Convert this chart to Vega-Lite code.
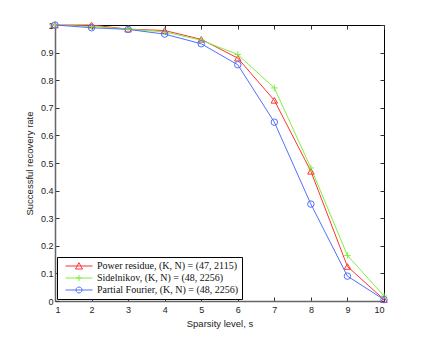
{
  "$schema": "https://vega.github.io/schema/vega-lite/v6.json",
  "width": 329,
  "height": 276,
  "autosize": {"type": "none"},
  "padding": {"left": 55, "top": 25, "right": 40, "bottom": 39},
  "background": "white",
  "config": {
    "view": {"stroke": "#000", "strokeWidth": 1},
    "axis": {"labelFont": "Liberation Sans", "titleFont": "Liberation Sans", "labelFontSize": 9, "titleFontSize": 9.5, "titleFontWeight": "normal", "labelColor": "#222", "titleColor": "#222", "grid": false, "tickColor": "#333"}
  },
  "data": {"values": [
    {"series": "Power residue, (K, N) = (47, 2115)", "s": 1, "rate": 1},
    {"series": "Power residue, (K, N) = (47, 2115)", "s": 2, "rate": 1},
    {"series": "Power residue, (K, N) = (47, 2115)", "s": 3, "rate": 0.985},
    {"series": "Power residue, (K, N) = (47, 2115)", "s": 4, "rate": 0.98},
    {"series": "Power residue, (K, N) = (47, 2115)", "s": 5, "rate": 0.948},
    {"series": "Power residue, (K, N) = (47, 2115)", "s": 6, "rate": 0.88},
    {"series": "Power residue, (K, N) = (47, 2115)", "s": 7, "rate": 0.727},
    {"series": "Power residue, (K, N) = (47, 2115)", "s": 8, "rate": 0.47},
    {"series": "Power residue, (K, N) = (47, 2115)", "s": 9, "rate": 0.125},
    {"series": "Power residue, (K, N) = (47, 2115)", "s": 10, "rate": 0.005},
    {"series": "Sidelnikov, (K, N) = (48, 2256)", "s": 1, "rate": 1},
    {"series": "Sidelnikov, (K, N) = (48, 2256)", "s": 2, "rate": 0.995},
    {"series": "Sidelnikov, (K, N) = (48, 2256)", "s": 3, "rate": 0.985},
    {"series": "Sidelnikov, (K, N) = (48, 2256)", "s": 4, "rate": 0.975},
    {"series": "Sidelnikov, (K, N) = (48, 2256)", "s": 5, "rate": 0.945},
    {"series": "Sidelnikov, (K, N) = (48, 2256)", "s": 6, "rate": 0.893},
    {"series": "Sidelnikov, (K, N) = (48, 2256)", "s": 7, "rate": 0.772},
    {"series": "Sidelnikov, (K, N) = (48, 2256)", "s": 8, "rate": 0.482},
    {"series": "Sidelnikov, (K, N) = (48, 2256)", "s": 9, "rate": 0.165},
    {"series": "Sidelnikov, (K, N) = (48, 2256)", "s": 10, "rate": 0.018},
    {"series": "Partial Fourier, (K, N) = (48, 2256)", "s": 1, "rate": 1},
    {"series": "Partial Fourier, (K, N) = (48, 2256)", "s": 2, "rate": 0.99},
    {"series": "Partial Fourier, (K, N) = (48, 2256)", "s": 3, "rate": 0.984},
    {"series": "Partial Fourier, (K, N) = (48, 2256)", "s": 4, "rate": 0.967},
    {"series": "Partial Fourier, (K, N) = (48, 2256)", "s": 5, "rate": 0.932},
    {"series": "Partial Fourier, (K, N) = (48, 2256)", "s": 6, "rate": 0.856},
    {"series": "Partial Fourier, (K, N) = (48, 2256)", "s": 7, "rate": 0.648},
    {"series": "Partial Fourier, (K, N) = (48, 2256)", "s": 8, "rate": 0.351},
    {"series": "Partial Fourier, (K, N) = (48, 2256)", "s": 9, "rate": 0.09},
    {"series": "Partial Fourier, (K, N) = (48, 2256)", "s": 10, "rate": 0.005}
  ]},
  "resolve": {"axis": {"x": "independent", "y": "independent"}, "legend": {"color": "independent", "shape": "independent"}},
  "layer": [
    {
      "mark": {"type": "line", "strokeWidth": 1, "clip": false},
      "encoding": {
        "x": {"field": "s", "type": "quantitative", "scale": {"domain": [1, 10], "nice": false, "zero": false},
          "axis": {"orient": "bottom", "values": [1,2,3,4,5,6,7,8,9,10], "title": "Sparsity level, s", "tickSize": -4, "labelPadding": 8, "titlePadding": 4, "domainColor": "#666", "domainWidth": 1.5}},
        "y": {"field": "rate", "type": "quantitative", "scale": {"domain": [0, 1], "nice": false},
          "axis": {"orient": "left", "values": [0,0.1,0.2,0.3,0.4,0.5,0.6,0.7,0.8,0.9,1], "format": "~g", "title": "Successful recovery rate", "tickSize": -4, "labelPadding": 6, "titlePadding": 6, "domainColor": "#666", "domainWidth": 1.5}},
        "color": {"field": "series", "type": "nominal",
          "scale": {"domain": ["Power residue, (K, N) = (47, 2115)", "Sidelnikov, (K, N) = (48, 2256)", "Partial Fourier, (K, N) = (48, 2256)"], "range": ["#ff3333", "#80ee40", "#5070ff"]},
          "legend": {"title": null, "orient": "bottom-left", "offset": 2, "strokeColor": "#000", "fillColor": "white", "padding": 3,
            "labelFont": "Liberation Serif", "labelFontSize": 10, "labelColor": "#111", "labelOffset": 25, "symbolSize": 121, "symbolStrokeWidth": 1, "rowPadding": 0, "labelLimit": 300,
            "encode": {"symbols": {"update": {
              "shape": {"signal": "indexof(datum.value, 'Power') == 0 ? 'M-0.1,0L4.82,0M1.72,0.55L2.36,-0.6L3.0,0.55Z' : indexof(datum.value, 'Sidel') == 0 ? 'M-0.1,0L4.82,0M2.36,-0.55L2.36,0.55M1.81,0L2.91,0' : 'M-0.1,0L4.82,0M2.91,0L2.836,0.275L2.635,0.476L2.36,0.55L2.085,0.476L1.884,0.275L1.81,0L1.884,-0.275L2.085,-0.476L2.36,-0.55L2.635,-0.476L2.836,-0.275Z'"},
              "fill": {"value": "transparent"},
              "strokeWidth": {"value": 1}
            }}}}
        },
        "order": {"field": "s"}
      }
    },
    {
      "mark": {"type": "point", "filled": false, "strokeWidth": 1, "size": 42, "opacity": 1, "clip": false},
      "encoding": {
        "x": {"field": "s", "type": "quantitative",
          "axis": {"orient": "top", "values": [1,2,3,4,5,6,7,8,9,10], "labels": false, "title": null, "tickSize": -4, "domain": false}},
        "y": {"field": "rate", "type": "quantitative",
          "axis": {"orient": "right", "values": [0,0.1,0.2,0.3,0.4,0.5,0.6,0.7,0.8,0.9,1], "labels": false, "title": null, "tickSize": -4, "domain": false}},
        "color": {"field": "series", "type": "nominal", "legend": null},
        "shape": {"field": "series", "type": "nominal",
          "scale": {"domain": ["Power residue, (K, N) = (47, 2115)", "Sidelnikov, (K, N) = (48, 2256)", "Partial Fourier, (K, N) = (48, 2256)"], "range": ["triangle-up", "M-1,0L1,0M0,-1L0,1", "circle"]},
          "legend": null}
      }
    }
  ]
}
